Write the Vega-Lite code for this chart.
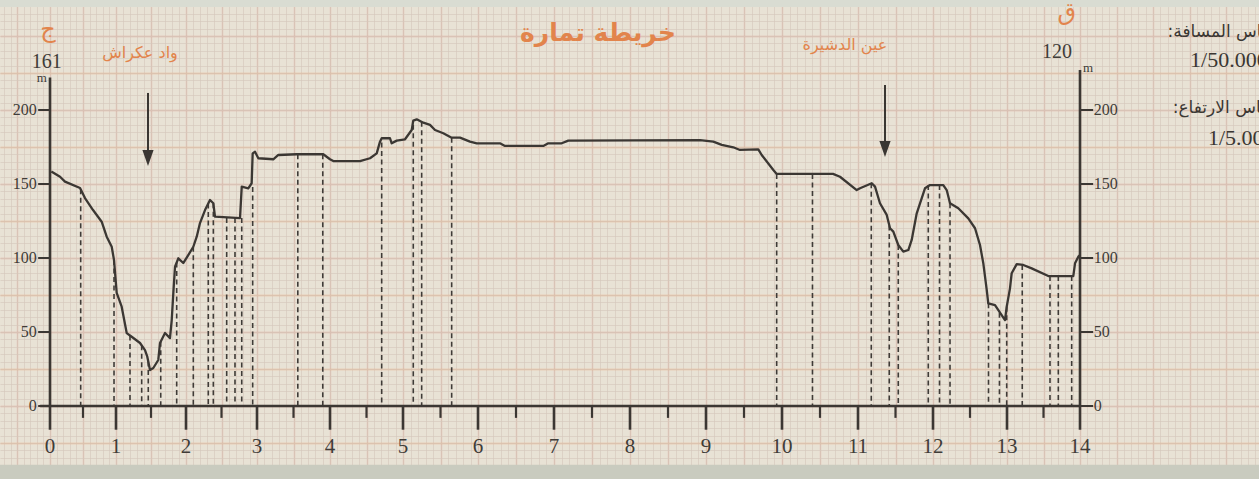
{
"$schema": "https://vega.github.io/schema/vega-lite/v6.json",
"width": 1259, "height": 479, "padding": 0, "autosize": {"type": "none"},
"background": "#e8e2d5",
"config": {"view": {"stroke": null}, "axis": {"grid": false, "labels": false, "ticks": false, "domain": false, "titleOpacity": 0}},
"resolve": {"axis": {"x": "independent", "y": "independent"}},
"data": {"values": [{}]},
"layer": [
{
 "mark": {"type": "rect", "color": "#c9cbbf"},
 "encoding": {
  "x": {"datum": -0.76, "type": "quantitative", "scale": {"domain": [-0.76,0,1,2,3,4,5,6,7,8,9,10,11,12,13,14,16.452], "range": [0,50,116,186,257,330,403,478,554,630,706,782,858,933,1007,1080,1259], "nice": false, "zero": false}},
  "x2": {"datum": 16.452},
  "y": {"datum": -49.3, "type": "quantitative", "scale": {"domain": [-49.3, 274.3], "nice": false, "zero": false}},
  "y2": {"datum": -39.6}
 }
},
{
 "mark": {"type": "rect", "color": "#d9dcd2"},
 "encoding": {
  "x": {"datum": -0.76, "type": "quantitative"},
  "x2": {"datum": 16.452},
  "y": {"datum": 274.3, "type": "quantitative"},
  "y2": {"datum": 269.5}
 }
},
{
 "data": {"values": [
  {"km":0.465,"top":146.5},{"km":0.970,"top":98.6},{"km":1.200,"top":47.6},{"km":1.367,"top":41},{"km":1.461,"top":30},
  {"km":1.639,"top":43.5},{"km":1.867,"top":97},{"km":2.103,"top":107.6},{"km":2.314,"top":136.9},{"km":2.385,"top":137},
  {"km":2.573,"top":127},{"km":2.690,"top":127},{"km":2.785,"top":127},{"km":2.939,"top":148},{"km":3.559,"top":170.1},
  {"km":3.901,"top":170.1},{"km":4.708,"top":178},{"km":5.137,"top":190},{"km":5.249,"top":192},{"km":5.649,"top":181.3},
  {"km":9.930,"top":156.8},{"km":10.401,"top":156.8},{"km":11.177,"top":150.5},{"km":11.417,"top":122},{"km":11.537,"top":108.8},
  {"km":11.937,"top":149.3},{"km":12.088,"top":149.3},{"km":12.230,"top":137},{"km":12.750,"top":69.4},{"km":12.898,"top":63},
  {"km":12.996,"top":67},{"km":13.209,"top":95.3},{"km":13.589,"top":87.8},{"km":13.703,"top":87.8},{"km":13.886,"top":87.8}
 ]},
 "mark": {"type": "rule", "color": "#3f3b37", "strokeWidth": 1.6, "strokeDash": [5, 3.5]},
 "encoding": {
  "x": {"field": "km", "type": "quantitative", "axis": {"grid": true, "title": null, "values": [-0.5,0,0.5,1,1.5,2,2.5,3,3.5,4,4.5,5,5.5,6,6.5,7,7.5,8,8.5,9,9.5,10,10.5,11,11.5,12,12.5,13,13.5,14,14.5,15,15.5,16], "gridColor": "#e0b3a6", "gridWidth": 1.3, "gridOpacity": 0.85}},
  "y": {"field": "top", "type": "quantitative", "axis": {"grid": true, "title": null, "values": [-50,0,50,100,150,200,250], "gridColor": "#e0b3a6", "gridWidth": 1.3, "gridOpacity": 0.85}},
  "y2": {"datum": 0}
 }
},
{
 "data": {"values": [{"km":1.457,"top":211.5,"head":167.6},{"km":11.36,"top":216.9,"head":173.6}]},
 "mark": {"type": "rule", "color": "#3a3632", "strokeWidth": 2},
 "encoding": {
  "x": {"field": "km", "type": "quantitative", "axis": null},
  "y": {"field": "top", "type": "quantitative", "axis": {"grid": true, "title": null, "values": [-25,25,75,125,175,225], "gridColor": "#e8b28c", "gridWidth": 1.6, "gridOpacity": 0.8}},
  "y2": {"field": "head"}
 }
},
{
 "data": {"values": [{"km":1.457,"head":167.6},{"km":11.36,"head":173.6}]},
 "mark": {"type": "point", "shape": "M-0.7,-1L0.7,-1L0,1Z", "size": 256, "filled": true, "color": "#3a3632", "opacity": 1},
 "encoding": {
  "x": {"field": "km", "type": "quantitative", "axis": null},
  "y": {"field": "head", "type": "quantitative", "axis": null}
 }
},
{
 "data": {"values": [{"km":0.02,"m":158.5},{"km":0.152,"m":154.9},{"km":0.227,"m":151.6},{"km":0.455,"m":147.3},{"km":0.530,"m":140.5},{"km":0.652,"m":132.4},{"km":0.783,"m":124.5},{"km":0.859,"m":114.4},{"km":0.935,"m":107.6},{"km":0.970,"m":98.6},{"km":1.010,"m":76.4},{"km":1.081,"m":67.1},{"km":1.153,"m":49.3},{"km":1.224,"m":46.8},{"km":1.343,"m":42.6},{"km":1.414,"m":37.8},{"km":1.447,"m":33.3},{"km":1.486,"m":24.3},{"km":1.533,"m":25.7},{"km":1.604,"m":31.1},{"km":1.629,"m":42.6},{"km":1.700,"m":49.3},{"km":1.771,"m":45.9},{"km":1.796,"m":58.1},{"km":1.819,"m":76.4},{"km":1.843,"m":94.1},{"km":1.890,"m":99.8},{"km":1.961,"m":96.6},{"km":2.032,"m":102.0},{"km":2.103,"m":107.6},{"km":2.151,"m":114.4},{"km":2.197,"m":123.6},{"km":2.268,"m":132.4},{"km":2.338,"m":139.2},{"km":2.385,"m":137.0},{"km":2.408,"m":127.9},{"km":2.761,"m":127.0},{"km":2.785,"m":148.2},{"km":2.877,"m":147.1},{"km":2.925,"m":150.5},{"km":2.939,"m":170.7},{"km":2.972,"m":171.8},{"km":3.018,"m":167.4},{"km":3.223,"m":166.7},{"km":3.292,"m":169.6},{"km":3.544,"m":170.1},{"km":3.908,"m":170.1},{"km":4.000,"m":166.7},{"km":4.045,"m":165.5},{"km":4.411,"m":165.5},{"km":4.548,"m":167.4},{"km":4.640,"m":170.7},{"km":4.685,"m":178.6},{"km":4.708,"m":180.9},{"km":4.822,"m":180.9},{"km":4.845,"m":177.5},{"km":4.914,"m":179.3},{"km":5.027,"m":180.2},{"km":5.116,"m":186.5},{"km":5.137,"m":192.8},{"km":5.183,"m":193.7},{"km":5.271,"m":191.4},{"km":5.360,"m":189.9},{"km":5.427,"m":186.5},{"km":5.537,"m":184.3},{"km":5.649,"m":181.3},{"km":5.760,"m":181.3},{"km":5.893,"m":178.6},{"km":5.983,"m":177.5},{"km":6.289,"m":177.5},{"km":6.355,"m":175.7},{"km":6.859,"m":175.7},{"km":6.925,"m":177.5},{"km":7.101,"m":177.5},{"km":7.188,"m":179.3},{"km":8.921,"m":179.7},{"km":9.096,"m":178.6},{"km":9.207,"m":176.4},{"km":9.359,"m":174.8},{"km":9.447,"m":173.0},{"km":9.688,"m":173.4},{"km":9.733,"m":169.6},{"km":9.886,"m":159.5},{"km":9.930,"m":156.8},{"km":10.671,"m":156.8},{"km":10.763,"m":154.9},{"km":10.983,"m":145.9},{"km":11.027,"m":147.1},{"km":11.183,"m":150.5},{"km":11.227,"m":148.2},{"km":11.293,"m":137.0},{"km":11.383,"m":129.1},{"km":11.427,"m":120.1},{"km":11.471,"m":117.8},{"km":11.537,"m":108.8},{"km":11.604,"m":104.3},{"km":11.671,"m":105.4},{"km":11.716,"m":112.2},{"km":11.783,"m":130.2},{"km":11.893,"m":147.1},{"km":11.960,"m":149.3},{"km":12.139,"m":149.3},{"km":12.185,"m":145.9},{"km":12.230,"m":137.0},{"km":12.342,"m":133.6},{"km":12.477,"m":126.8},{"km":12.568,"m":120.1},{"km":12.635,"m":108.8},{"km":12.680,"m":96.4},{"km":12.726,"m":78.4},{"km":12.747,"m":69.4},{"km":12.838,"m":68.2},{"km":12.973,"m":58.1},{"km":12.996,"m":67.1},{"km":13.041,"m":79.5},{"km":13.064,"m":89.7},{"km":13.133,"m":95.9},{"km":13.223,"m":95.3},{"km":13.338,"m":93.0},{"km":13.566,"m":87.8},{"km":13.908,"m":87.8},{"km":13.932,"m":96.4},{"km":13.977,"m":100.9},{"km":14.0,"m":102.0}]},
 "mark": {"type": "line", "color": "#3b3733", "strokeWidth": 2.3, "strokeJoin": "round"},
 "encoding": {
  "x": {"field": "km", "type": "quantitative", "axis": {"grid": true, "title": null, "tickCount": 172, "gridColor": "#d4c8bc", "gridWidth": 0.8, "gridOpacity": 0.8}},
  "y": {"field": "m", "type": "quantitative", "axis": {"grid": true, "title": null, "tickCount": 65, "gridColor": "#d4c8bc", "gridWidth": 0.8, "gridOpacity": 0.8}}
 }
},
{
 "mark": {"type": "rule", "color": "#3b3733", "strokeWidth": 2.6},
 "encoding": {"x": {"datum": -0.15, "type": "quantitative"}, "x2": {"datum": 14}, "y": {"datum": 0, "type": "quantitative"}}
},
{
 "mark": {"type": "rule", "color": "#3b3733", "strokeWidth": 2.6},
 "encoding": {"x": {"datum": 0, "type": "quantitative"}, "y": {"datum": -16, "type": "quantitative"}, "y2": {"datum": 222}}
},
{
 "mark": {"type": "rule", "color": "#3b3733", "strokeWidth": 2.6},
 "encoding": {"x": {"datum": 14, "type": "quantitative"}, "y": {"datum": -16, "type": "quantitative"}, "y2": {"datum": 227}}
},
{
 "data": {"values": [{"k":1},{"k":2},{"k":3},{"k":4},{"k":5},{"k":6},{"k":7},{"k":8},{"k":9},{"k":10},{"k":11},{"k":12},{"k":13}]},
 "mark": {"type": "rule", "color": "#3b3733", "strokeWidth": 2.6},
 "encoding": {"x": {"field": "k", "type": "quantitative", "axis": null}, "y": {"datum": -16, "type": "quantitative"}, "y2": {"datum": 0}}
},
{
 "data": {"values": [{"k":0.5},{"k":1.5},{"k":2.5},{"k":3.5},{"k":4.5},{"k":5.5},{"k":6.5},{"k":7.5},{"k":8.5},{"k":9.5},{"k":10.5},{"k":11.5},{"k":12.5},{"k":13.5}]},
 "mark": {"type": "rule", "color": "#3b3733", "strokeWidth": 2.2},
 "encoding": {"x": {"field": "k", "type": "quantitative", "axis": null}, "y": {"datum": -8, "type": "quantitative"}, "y2": {"datum": 0}}
},
{
 "data": {"values": [{"v":0},{"v":50},{"v":100},{"v":150},{"v":200}]},
 "mark": {"type": "rule", "color": "#3b3733", "strokeWidth": 2},
 "encoding": {"x": {"datum": -0.18, "type": "quantitative"}, "x2": {"datum": 0}, "y": {"field": "v", "type": "quantitative", "axis": null}}
},
{
 "data": {"values": [{"v":0},{"v":50},{"v":100},{"v":150},{"v":200}]},
 "mark": {"type": "rule", "color": "#3b3733", "strokeWidth": 2},
 "encoding": {"x": {"datum": 14, "type": "quantitative"}, "x2": {"datum": 14.18}, "y": {"field": "v", "type": "quantitative", "axis": null}}
},
{
 "data": {"values": [{"k":0,"t":"0"},{"k":1,"t":"1"},{"k":2,"t":"2"},{"k":3,"t":"3"},{"k":4,"t":"4"},{"k":5,"t":"5"},{"k":6,"t":"6"},{"k":7,"t":"7"},{"k":8,"t":"8"},{"k":9,"t":"9"},{"k":10,"t":"10"},{"k":11,"t":"11"},{"k":12,"t":"12"},{"k":13,"t":"13"},{"k":14,"t":"14"}]},
 "mark": {"type": "text", "font": "Liberation Serif", "fontSize": 21, "color": "#403c38", "align": "center", "baseline": "middle"},
 "encoding": {"x": {"field": "k", "type": "quantitative", "axis": null}, "y": {"datum": -27.7, "type": "quantitative"}, "text": {"field": "t"}}
},
{
 "data": {"values": [{"v":0},{"v":50},{"v":100},{"v":150},{"v":200}]},
 "mark": {"type": "text", "font": "Liberation Serif", "fontSize": 16, "color": "#403c38", "align": "right", "baseline": "middle"},
 "encoding": {"x": {"datum": -0.2, "type": "quantitative"}, "y": {"field": "v", "type": "quantitative", "axis": null}, "text": {"field": "v"}}
},
{
 "data": {"values": [{"v":0},{"v":50},{"v":100},{"v":150},{"v":200}]},
 "mark": {"type": "text", "font": "Liberation Serif", "fontSize": 16, "color": "#403c38", "align": "left", "baseline": "middle"},
 "encoding": {"x": {"datum": 14.19, "type": "quantitative"}, "y": {"field": "v", "type": "quantitative", "axis": null}, "text": {"field": "v"}}
},
{
 "data": {"values": [{"k":-0.05,"m":232.6,"t":"161"},{"k":13.685,"m":239.4,"t":"120"}]},
 "mark": {"type": "text", "font": "Liberation Serif", "fontSize": 20, "color": "#403c38", "align": "center", "baseline": "middle"},
 "encoding": {"x": {"field": "k", "type": "quantitative", "axis": null}, "y": {"field": "m", "type": "quantitative", "axis": null}, "text": {"field": "t"}}
},
{
 "data": {"values": [{"k":-0.126,"m":221.6,"t":"m"},{"k":14.11,"m":228.4,"t":"m"}]},
 "mark": {"type": "text", "font": "Liberation Serif", "fontSize": 13, "color": "#403c38", "align": "center", "baseline": "middle"},
 "encoding": {"x": {"field": "k", "type": "quantitative", "axis": null}, "y": {"field": "m", "type": "quantitative", "axis": null}, "text": {"field": "t"}}
},
{
 "data": {"values": [{"k":-0.03,"m":254,"t":"ج"},{"k":13.82,"m":265.5,"t":"ق"}]},
 "mark": {"type": "text", "font": "DejaVu Sans", "fontSize": 24, "color": "#e2844c", "align": "center", "baseline": "middle"},
 "encoding": {"x": {"field": "k", "type": "quantitative", "axis": null}, "y": {"field": "m", "type": "quantitative", "axis": null}, "text": {"field": "t"}}
},
{
 "data": {"values": [{"k":1.343,"m":238.5,"t":"واد عكراش"},{"k":10.829,"m":243.9,"t":"عين الدشيرة"}]},
 "mark": {"type": "text", "font": "DejaVu Sans", "fontSize": 16, "color": "#e2844c", "align": "center", "baseline": "middle"},
 "encoding": {"x": {"field": "k", "type": "quantitative", "axis": null}, "y": {"field": "m", "type": "quantitative", "axis": null}, "text": {"field": "t"}}
},
{
 "data": {"values": [{"k":7.579,"m":252,"t":"خريطة تمارة"}]},
 "mark": {"type": "text", "font": "DejaVu Sans", "fontSize": 25, "fontWeight": "bold", "color": "#e2844c", "align": "center", "baseline": "middle"},
 "encoding": {"x": {"field": "k", "type": "quantitative", "axis": null}, "y": {"field": "m", "type": "quantitative", "axis": null}, "text": {"field": "t"}}
},
{
 "data": {"values": [{"k":15.2,"m":252.7,"t":"مقياس المسافة:\u200f"},{"k":15.27,"m":201.4,"t":"مقياس الارتفاع:\u200f"}]},
 "mark": {"type": "text", "font": "DejaVu Sans", "fontSize": 17, "color": "#3b3733", "align": "left", "baseline": "middle"},
 "encoding": {"x": {"field": "k", "type": "quantitative", "axis": null}, "y": {"field": "m", "type": "quantitative", "axis": null}, "text": {"field": "t"}}
},
{
 "data": {"values": [{"k":15.507,"m":233.8,"t":"1/50.000"},{"k":15.753,"m":181.1,"t":"1/5.000"}]},
 "mark": {"type": "text", "font": "Liberation Serif", "fontSize": 22, "color": "#3b3733", "align": "left", "baseline": "middle"},
 "encoding": {"x": {"field": "k", "type": "quantitative", "axis": null}, "y": {"field": "m", "type": "quantitative", "axis": null}, "text": {"field": "t"}}
}
]
}
